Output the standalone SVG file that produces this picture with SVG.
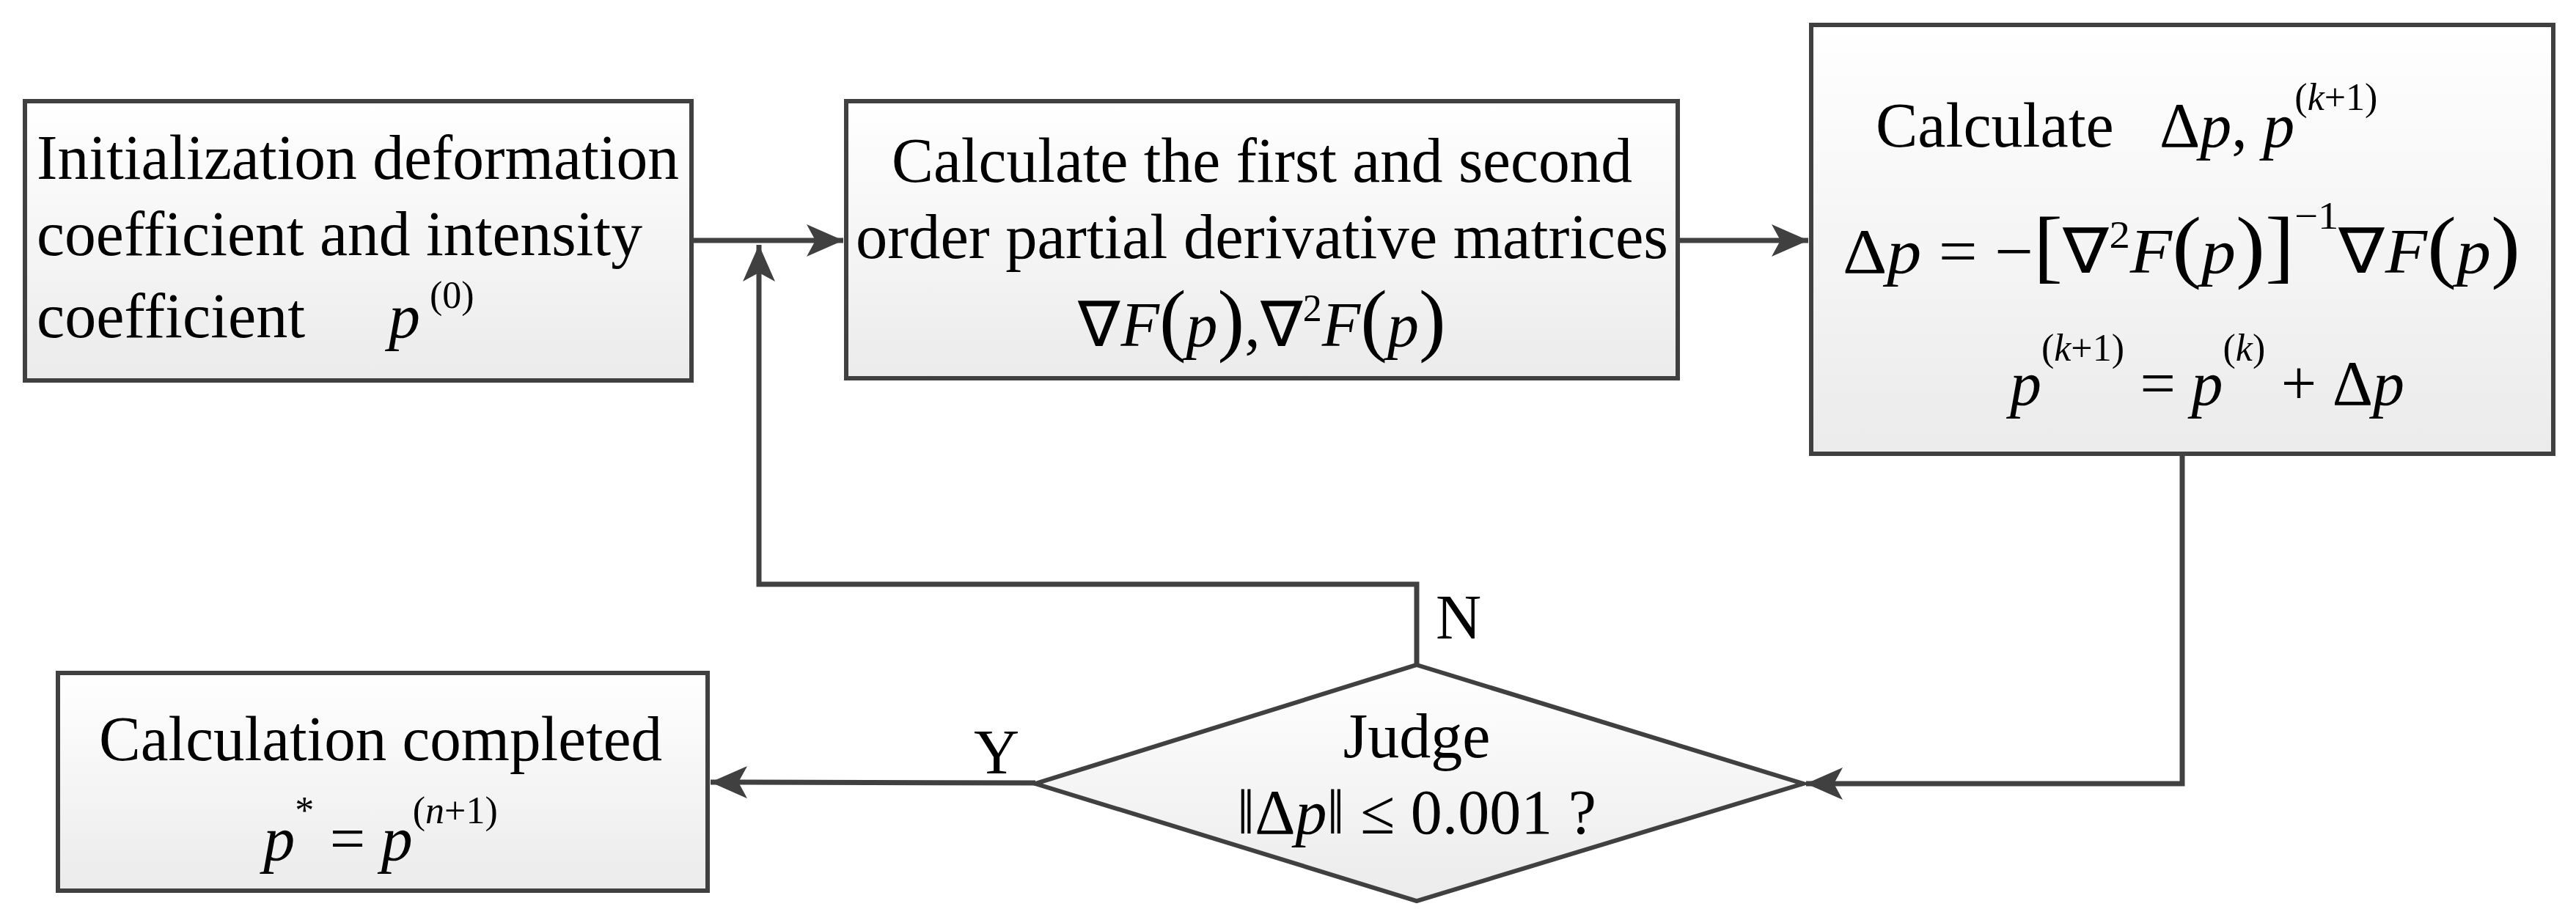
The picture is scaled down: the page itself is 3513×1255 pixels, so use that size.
<svg xmlns="http://www.w3.org/2000/svg" width="3513" height="1255" viewBox="0 0 3513 1255">
<style>
.box{stroke:#404040;stroke-width:6;fill:url(#g)}
.ln{stroke:#404040;stroke-width:7;fill:none}
text{font-family:"Liberation Serif","Times New Roman",serif;fill:#000;font-size:86px}
.i{font-style:italic}
.sup{font-size:52px}
.big{font-size:110px}
</style>
<defs>
<linearGradient id="g" x1="0" y1="0" x2="0" y2="1"><stop offset="0" stop-color="#ffffff"/><stop offset="1" stop-color="#ebebeb"/></linearGradient>
<marker id="a" markerUnits="userSpaceOnUse" markerWidth="60" markerHeight="50" refX="50" refY="22" orient="auto"><path d="M0,0 L50,22 L0,44 L12,22 Z" fill="#404040"/></marker>
</defs>
<g id="connectors">
<path class="ln" d="M943,328 L1150,328" marker-end="url(#a)"/>
<path class="ln" d="M1932,907 L1932,797 L1035,797 L1035,334" marker-end="url(#a)"/>
<path class="ln" d="M2288,328 L2466,328" marker-end="url(#a)"/>
<path class="ln" d="M2976,619 L2976,1069 L2463,1069" marker-end="url(#a)"/>
<path class="ln" d="M1412,1068 L969,1067" marker-end="url(#a)"/>
<text x="1328" y="1055">Y</text>
<text x="1958" y="871">N</text>
</g>
<g id="n1">
<rect class="box" x="34" y="138" width="909" height="381"/>
<text x="50" y="244" textLength="876" lengthAdjust="spacingAndGlyphs">Initialization deformation</text>
<text x="50" y="348" textLength="826" lengthAdjust="spacingAndGlyphs">coefficient and intensity</text>
<text x="50" y="460">coefficient</text>
<text x="530" y="460" class="i">p</text><text x="586" y="420" class="sup">(0)</text>
</g>
<g id="n2">
<rect class="box" x="1154" y="138" width="1134" height="378"/>
<text x="1721" y="248" text-anchor="middle" textLength="1010" lengthAdjust="spacingAndGlyphs">Calculate the first and second</text>
<text x="1721" y="352" text-anchor="middle" textLength="1108" lengthAdjust="spacingAndGlyphs">order partial derivative matrices</text>
<text x="1721" y="472" text-anchor="middle">∇<tspan class="i">F</tspan><tspan class="big">(</tspan><tspan class="i">p</tspan><tspan class="big">)</tspan>,∇<tspan class="sup" dy="-34">2</tspan><tspan class="i" dy="34">F</tspan><tspan class="big">(</tspan><tspan class="i">p</tspan><tspan class="big">)</tspan></text>
</g>
<g id="n3">
<rect class="box" x="2470" y="34" width="1012" height="585"/>
<text x="2558" y="200">Calculate</text>
<text x="2945" y="200">Δ<tspan class="i">p</tspan>, <tspan class="i">p</tspan><tspan class="sup" dy="-50">(<tspan class="i">k</tspan>+1)</tspan></text>
<text x="2975" y="372" text-anchor="middle" textLength="924" lengthAdjust="spacingAndGlyphs">Δ<tspan class="i">p</tspan> = −<tspan class="big">[</tspan>∇<tspan class="sup" dy="-34">2</tspan><tspan class="i" dy="34">F</tspan><tspan class="big">(</tspan><tspan class="i">p</tspan><tspan class="big">)</tspan><tspan class="big">]</tspan><tspan class="sup" dy="-60">−1</tspan><tspan dy="60">∇</tspan><tspan class="i">F</tspan><tspan class="big">(</tspan><tspan class="i">p</tspan><tspan class="big">)</tspan></text>
<text x="3010" y="552" text-anchor="middle"><tspan class="i">p</tspan><tspan class="sup" dy="-60">(<tspan class="i">k</tspan>+1)</tspan><tspan dy="60"> = </tspan><tspan class="i">p</tspan><tspan class="sup" dy="-60">(<tspan class="i">k</tspan>)</tspan><tspan dy="60"> + Δ</tspan><tspan class="i">p</tspan></text>
</g>
<g id="n4">
<polygon class="box" points="1932,907 2459,1069 1932,1229 1412,1069"/>
<text x="1932" y="1033" text-anchor="middle">Judge</text>
<text x="1932" y="1137" text-anchor="middle">‖Δ<tspan class="i">p</tspan>‖ ≤ 0.001 ?</text>
</g>
<g id="n5">
<rect class="box" x="79" y="918" width="886" height="297"/>
<text x="519" y="1037" text-anchor="middle" textLength="768" lengthAdjust="spacingAndGlyphs">Calculation completed</text>
<text x="519" y="1173" text-anchor="middle"><tspan class="i">p</tspan><tspan class="sup" dy="-50">*</tspan><tspan dy="50"> = </tspan><tspan class="i">p</tspan><tspan class="sup" dy="-50">(<tspan class="i">n</tspan>+1)</tspan></text>
</g>
</svg>
